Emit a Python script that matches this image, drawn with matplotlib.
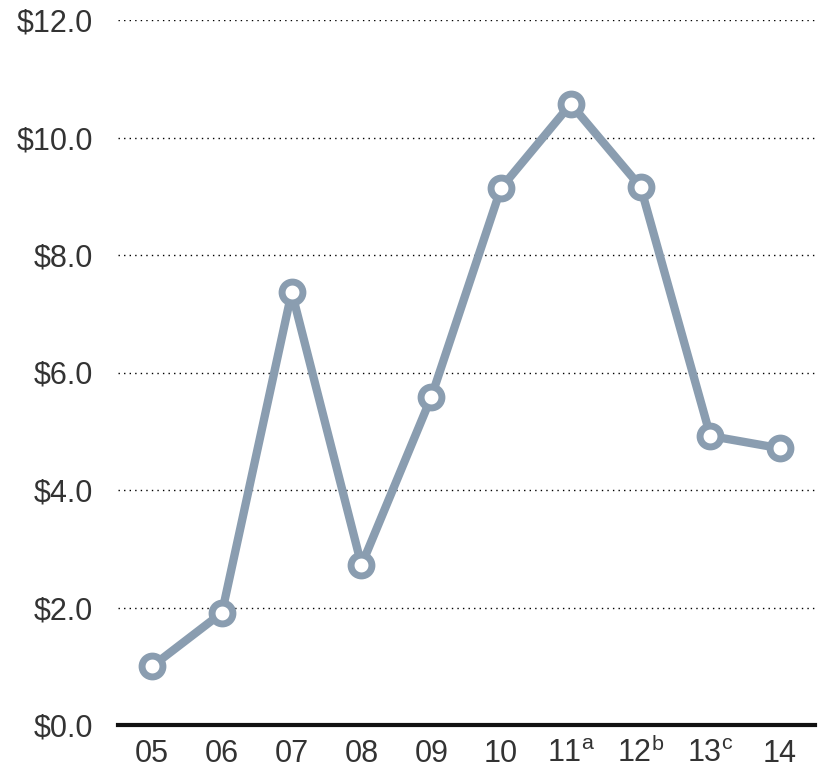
import matplotlib
matplotlib.use('Agg')
import matplotlib.pyplot as plt

# Data
years = ['05', '06', '07', '08', '09', '10',
         '11$^{\\mathrm{a}}$', '12$^{\\mathrm{b}}$', '13$^{\\mathrm{c}}$', '14']
values = [1.0, 1.91, 7.37, 2.72, 5.58, 9.14, 10.57, 9.16, 4.92, 4.71]
yticks = [0, 2, 4, 6, 8, 10, 12]

plt.rcParams['font.family'] = 'Liberation Sans'
plt.rcParams['mathtext.fontset'] = 'custom'
plt.rcParams['mathtext.rm'] = 'Liberation Sans'

fig = plt.figure(figsize=(8.21, 7.69), dpi=100)
ax = fig.add_axes([118 / 821, 44 / 769, 697 / 821, 705 / 769])

x = list(range(len(values)))
ax.plot(x, values, color='#8a9db0', linewidth=6, zorder=3,
        marker='o', markersize=15, markerfacecolor='white',
        markeredgecolor='#8a9db0', markeredgewidth=5, clip_on=False)

ax.set_xlim(-0.49, 9.5)
ax.set_ylim(0, 12)
ax.set_yticks(yticks)
ax.set_yticklabels(['$%.1f' % v for v in yticks])
ax.set_xticks(x)
ax.set_xticklabels(years)

# dotted gridlines
for v in yticks[1:]:
    ax.axhline(v, color='black', linestyle=(0, (1, 3)), linewidth=1, zorder=1)

for s in ['top', 'right', 'left']:
    ax.spines[s].set_visible(False)
ax.spines['bottom'].set_linewidth(3)
ax.spines['bottom'].set_color('#111111')
ax.spines['bottom'].set_zorder(4)

ax.tick_params(axis='both', length=0, labelsize=22, colors='#333333')
ax.tick_params(axis='y', pad=18)
ax.tick_params(axis='x', pad=27)
# keep the superscripts from pushing labels down
for lab in ax.get_xticklabels():
    lab.set_verticalalignment('baseline')

fig.savefig('out.png', dpi=100)
